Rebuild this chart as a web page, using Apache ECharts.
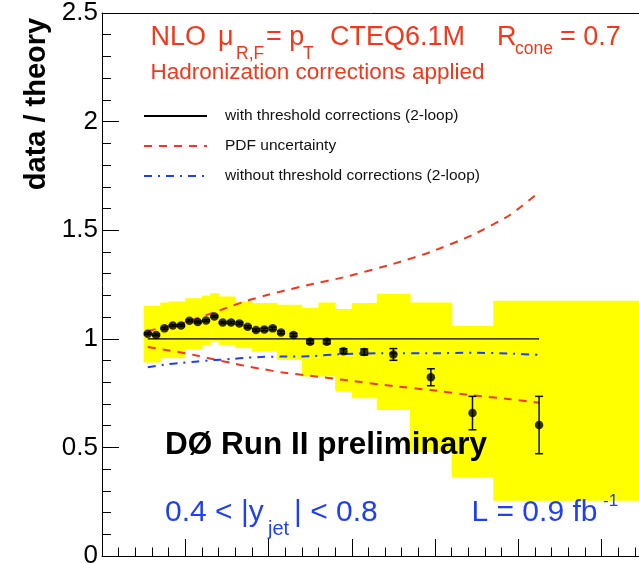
<!DOCTYPE html>
<html><head><meta charset="utf-8">
<script src="https://cdn.jsdelivr.net/npm/echarts@6/dist/echarts.min.js"></script>
<style>html,body{margin:0;padding:0;background:#fff;overflow:hidden}#c{width:639px;height:563px}</style>
</head><body><div id="c"></div><script>
// data points: jet pT (GeV), data/theory ratio, statistical error
const ptPoints = [55,65,75,85,95,105,115,125,135,145,155,165,175,185,195,205,215,230,250,270,290,315,350,395,445,525];
const ratio = [1.023,1.018,1.048,1.061,1.061,1.083,1.077,1.084,1.103,1.075,1.075,1.071,1.055,1.040,1.043,1.048,1.029,1.018,0.986,0.986,0.943,0.939,0.928,0.823,0.658,0.603];
const statErr = [0.004,0.004,0.004,0.004,0.004,0.004,0.004,0.004,0.004,0.004,0.005,0.005,0.005,0.005,0.006,0.006,0.006,0.007,0.008,0.009,0.011,0.014,0.027,0.039,0.077,0.132];
// systematic uncertainty band (per bin)
const binLo = [50,60,70,80,90,100,110,120,130,140,150,160,170,180,190,200,210,220,240,260,280,300,330,370,420,470];
const binHi = [60,70,80,90,100,110,120,130,140,150,160,170,180,190,200,210,220,240,260,280,300,330,370,420,470,660];
const sysUp = [1.152,1.152,1.167,1.172,1.172,1.187,1.187,1.199,1.210,1.195,1.195,1.172,1.172,1.165,1.165,1.165,1.157,1.157,1.143,1.167,1.137,1.165,1.207,1.167,1.060,1.175];
const sysDown = [0.891,0.891,0.911,0.911,0.911,0.953,0.953,0.972,0.988,0.972,0.972,0.957,0.957,0.941,0.941,0.941,0.903,0.903,0.826,0.826,0.760,0.726,0.672,0.480,0.362,0.254];
// theory curves
const curvePt = [55,75,95,115,135,155,175,195,215,250,290,350,395,445,490,525];
const withThreshold = [1,1,1,1,1,1,1,1,1,1,1,1,1,1,1,1];
const pdfUpper = [1.035,1.055,1.070,1.096,1.122,1.150,1.176,1.198,1.218,1.250,1.283,1.345,1.400,1.478,1.570,1.675];
const pdfLower = [0.962,0.950,0.937,0.922,0.905,0.889,0.873,0.859,0.846,0.830,0.811,0.782,0.764,0.740,0.722,0.706];
const withoutThreshold = [0.869,0.881,0.889,0.896,0.902,0.907,0.913,0.917,0.918,0.920,0.930,0.934,0.933,0.936,0.932,0.926];
const yTicks = [0, 0.5, 1, 1.5, 2, 2.5];
const xRange = [0, 645];

const FONT = 'Liberation Sans';
const RED = '#f4361a';
const BLUE = '#1f3ff0';
const zip = (a, b) => a.map((v, i) => [v, b[i]]);

const chart = echarts.init(document.getElementById('c'), null, {renderer: 'canvas'});

function txt(text, x, y, size, color, weight) {
  return {type: 'text', x: x, y: y, z: 100,
    style: {text: text, fill: color, fontSize: size, fontFamily: FONT, fontWeight: weight || 'normal',
      align: 'left', verticalAlign: 'middle', textAlign: 'left', textVerticalAlign: 'middle'}};
}

const option = {
  animation: false,
  backgroundColor: '#fff',
  grid: {left: 102, top: 13, right: 0, bottom: 7, show: false, outerBoundsMode: 'none', containLabel: false},
  xAxis: [{type: 'value', min: xRange[0], max: xRange[1], interval: 100,
    axisLine: {show: true, onZero: false, lineStyle: {color: '#000', width: 1}},
    axisTick: {show: true, inside: true, length: 17, lineStyle: {color: '#000'}},
    minorTick: {show: true, splitNumber: 5, length: 8.5, lineStyle: {color: '#000'}},
    axisLabel: {show: false}, splitLine: {show: false}},
    {type: 'value', position: 'top', min: xRange[0], max: xRange[1], interval: 100,
    axisLine: {show: true, onZero: false, lineStyle: {color: '#000', width: 1}},
    axisTick: {show: false}, axisLabel: {show: false}, splitLine: {show: false}}],
  yAxis: {type: 'value', min: yTicks[0], max: yTicks[yTicks.length - 1], interval: 0.5,
    axisLine: {show: true, onZero: false, lineStyle: {color: '#000', width: 1}},
    axisTick: {show: true, inside: true, length: 17, lineStyle: {color: '#000'}},
    minorTick: {show: true, splitNumber: 5, length: 9, lineStyle: {color: '#000'}},
    axisLabel: {show: true, margin: 4, fontSize: 26, fontFamily: FONT, color: '#000',
      formatter: v => String(v)},
    splitLine: {show: false}},
  legend: {orient: 'vertical', left: 143, top: 108, itemWidth: 63, itemHeight: 14, itemGap: 14, padding: 0,
    selectedMode: false,
    itemStyle: {opacity: 0},
    data: ['with threshold corrections (2-loop)', 'PDF uncertainty', 'without threshold corrections (2-loop)'],
    textStyle: {fontSize: 15.5, fontFamily: FONT, color: '#111', padding: [0, 0, 0, 13]}},
  graphic: [
    {type: 'text', x: 37, y: 104, rotation: Math.PI / 2, z: 100,
      style: {text: 'data / theory', fill: '#000', fontSize: 29, fontWeight: 'bold', fontFamily: FONT,
        align: 'center', verticalAlign: 'middle', textAlign: 'center', textVerticalAlign: 'middle'}},
    txt('NLO', 150.5, 37.5, 27, RED),
    txt('\u03bc', 218, 37.5, 27, RED),
    txt('R,F', 236, 54, 17.5, RED),
    txt('= p', 266, 37.5, 27, RED),
    txt('T', 303, 54, 17.5, RED),
    txt('CTEQ6.1M', 330, 37.5, 27, RED),
    txt('R', 497, 37.5, 27, RED),
    txt('cone', 515, 49, 17.5, RED),
    txt('= 0.7', 560, 37.5, 27, RED),
    txt('Hadronization corrections applied', 150.5, 73, 22.5, RED),
    txt('D\u00d8 Run II preliminary', 165, 445, 31.5, '#000', 'bold'),
    txt('0.4 < |y', 165, 512.5, 30, BLUE),
    txt('jet', 268, 529, 20, BLUE),
    txt('| < 0.8', 294, 512.5, 30, BLUE),
    txt('L = 0.9 fb', 471.5, 512.5, 30, BLUE),
    txt('-1', 603, 501, 17, BLUE)
  ],
  series: [
    {type: 'custom', name: 'sys', z: 1, silent: true,
      data: binLo.map((v, i) => [v, binHi[i], sysUp[i], sysDown[i]]),
      encode: {x: [0, 1], y: [2, 3]},
      renderItem: function (params, api) {
        const p1 = api.coord([api.value(0), api.value(2)]);
        const p2 = api.coord([api.value(1), api.value(3)]);
        return {type: 'rect', shape: {x: p1[0], y: p1[1], width: p2[0] - p1[0] + 0.6, height: p2[1] - p1[1]},
          style: {fill: '#ffff00'}};
      }},
    {type: 'line', name: 'with threshold corrections (2-loop)', z: 3, symbol: 'none',
      data: zip(curvePt, withThreshold), lineStyle: {color: '#000', width: 1.3}, itemStyle: {color: '#000'}},
    {type: 'line', name: 'PDF uncertainty', z: 3, symbol: 'none', smooth: 0.2,
      data: zip(curvePt, pdfUpper), lineStyle: {color: RED, width: 2, type: [8, 7]}, itemStyle: {color: RED}},
    {type: 'line', name: 'PDF uncertainty', z: 3, symbol: 'none', smooth: 0.2,
      data: zip(curvePt, pdfLower), lineStyle: {color: RED, width: 2, type: [8, 7]}, itemStyle: {color: RED}},
    {type: 'line', name: 'without threshold corrections (2-loop)', z: 3, symbol: 'none', smooth: 0.2,
      data: zip(curvePt, withoutThreshold), lineStyle: {color: BLUE, width: 2, type: [8, 6, 2, 6]}, itemStyle: {color: BLUE}},
    {type: 'custom', name: 'err', z: 4, silent: true,
      data: ptPoints.map((p, i) => [p, ratio[i] - statErr[i], ratio[i] + statErr[i]]),
      encode: {x: 0, y: [1, 2]},
      renderItem: function (params, api) {
        const lo = api.coord([api.value(0), api.value(1)]);
        const hi = api.coord([api.value(0), api.value(2)]);
        const st = {stroke: '#111', lineWidth: 1.5};
        return {type: 'group', children: [
          {type: 'line', shape: {x1: lo[0], y1: lo[1], x2: hi[0], y2: hi[1]}, style: st},
          {type: 'line', shape: {x1: lo[0] - 4, y1: lo[1], x2: lo[0] + 4, y2: lo[1]}, style: st},
          {type: 'line', shape: {x1: hi[0] - 4, y1: hi[1], x2: hi[0] + 4, y2: hi[1]}, style: st}
        ]};
      }},
    {type: 'scatter', name: 'data', z: 5, symbol: 'circle', symbolSize: 8.5,
      data: zip(ptPoints, ratio), itemStyle: {color: '#000'}}
  ]
};
chart.setOption(option);
</script></body></html>
